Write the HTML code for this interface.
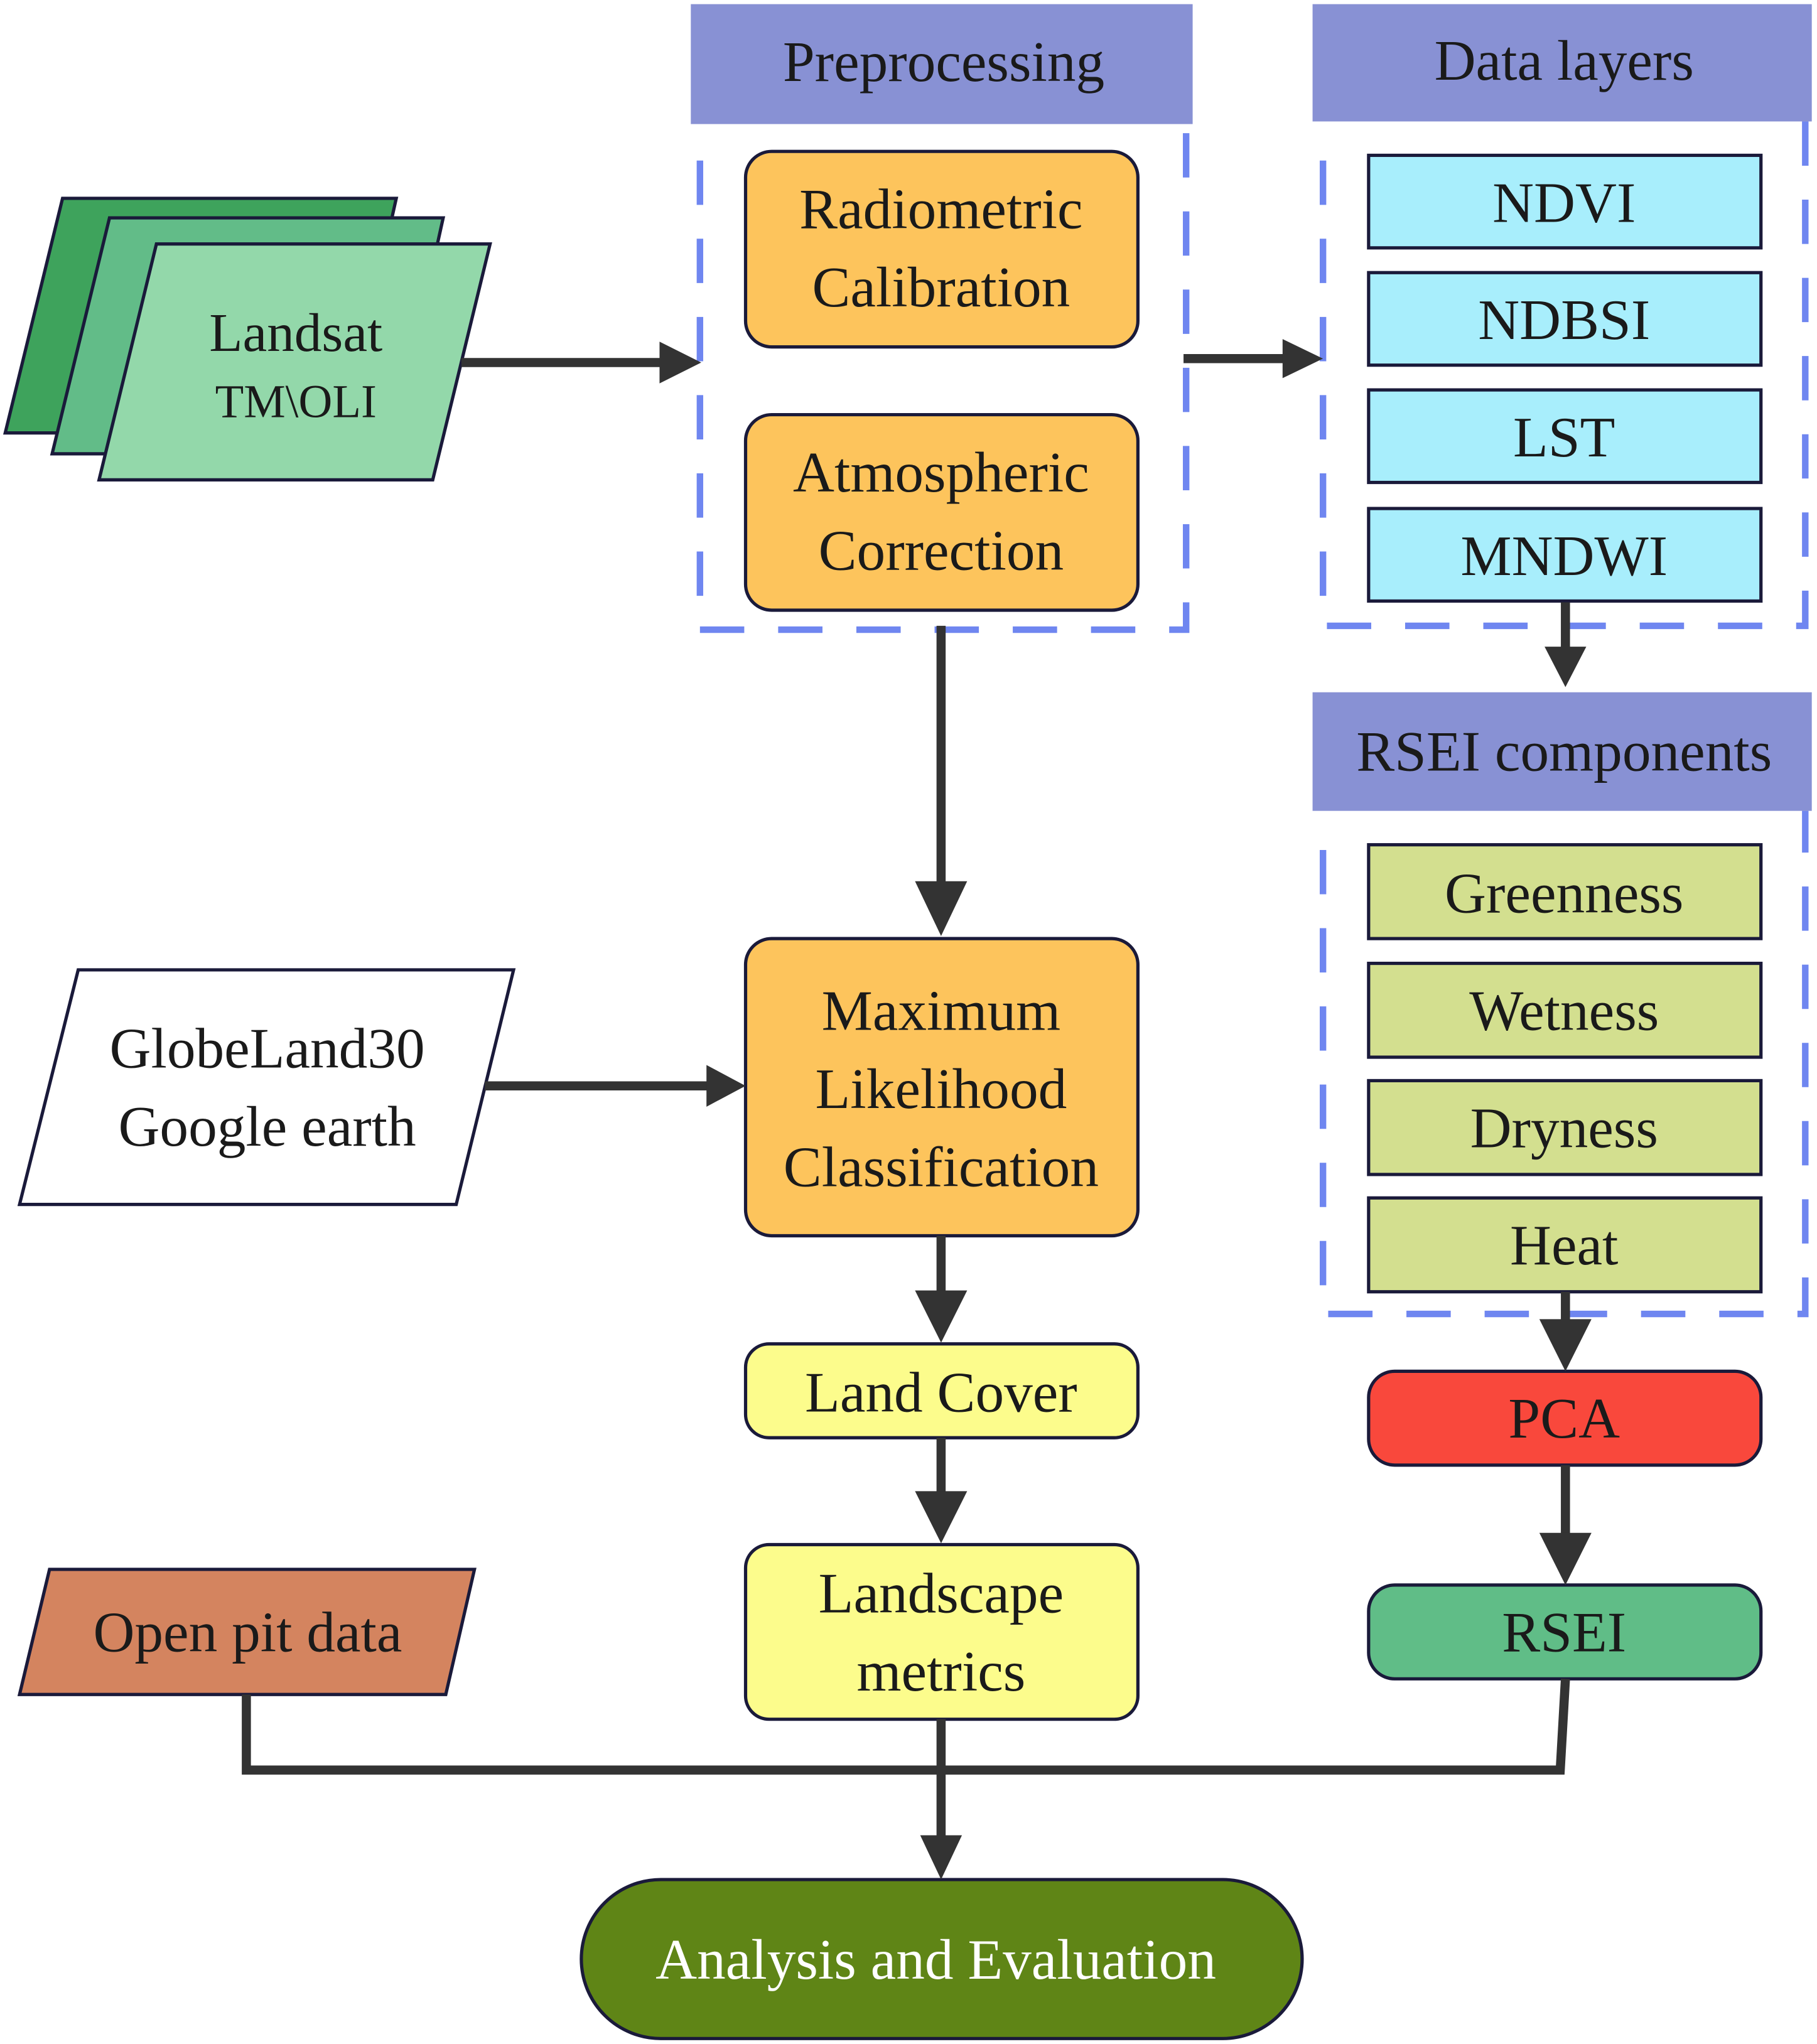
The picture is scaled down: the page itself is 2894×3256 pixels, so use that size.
<!DOCTYPE html>
<html><head><meta charset="utf-8"><style>html,body{margin:0;padding:0;background:#fff}svg{display:block}</style></head>
<body>
<svg width="2894" height="3256" viewBox="0 0 1394 1568" xmlns="http://www.w3.org/2000/svg" font-family="Liberation Serif, serif" fill="#1a1a1a">
<rect x="0" y="0" width="1394" height="1568" fill="#fff"/>
<!-- headers -->
<rect x="530" y="3" width="385" height="92" fill="#8891d4"/>
<text x="724" y="62" font-size="44" text-anchor="middle">Preprocessing</text>
<rect x="1007" y="3" width="383" height="90" fill="#8891d4"/>
<text x="1200" y="61" font-size="44" text-anchor="middle">Data layers</text>
<rect x="1007" y="531" width="383" height="91" fill="#8891d4"/>
<text x="1200" y="591" font-size="44" text-anchor="middle">RSEI components</text>
<!-- dashed boxes -->
<g fill="none" stroke="#6f86f0" stroke-width="5" stroke-dasharray="34,26">
<path d="M537,123 V483 H910 V95"/>
<path d="M1015,123 V480 H1385 V93"/>
<path d="M1015,652 V1008 H1385 V622"/>
</g>
<!-- landsat stack -->
<g stroke="#1a1a3a" stroke-width="2.5">
<polygon points="48,152 304,152 264,332 4,332" fill="#3ea35c"/>
<polygon points="84,167 340,167 300,348 40,348" fill="#62bc88"/>
<polygon points="120,187 376,187 332,368 76,368" fill="#93d8aa"/>
<polygon points="60,744 394,744 350,924 15,924" fill="#fff"/>
<polygon points="38,1204 364,1204 342,1300 15,1300" fill="#d4845f"/>
</g>
<text x="227" y="269" font-size="42" text-anchor="middle">Landsat</text>
<text x="227" y="320" font-size="36" text-anchor="middle">TM\OLI</text>
<text x="205" y="819" font-size="44" text-anchor="middle">GlobeLand30</text>
<text x="205" y="879" font-size="44" text-anchor="middle">Google earth</text>
<text x="190" y="1267" font-size="44" text-anchor="middle">Open pit data</text>
<!-- boxes -->
<g stroke="#1a1a3a" stroke-width="2.5">
<rect x="572" y="116" width="301" height="150" rx="20" fill="#fdc45c"/>
<rect x="572" y="318" width="301" height="150" rx="20" fill="#fdc45c"/>
<rect x="572" y="720" width="301" height="228" rx="20" fill="#fdc45c"/>
<rect x="572" y="1031" width="301" height="72" rx="18" fill="#fcfc8c"/>
<rect x="572" y="1185" width="301" height="134" rx="18" fill="#fcfc8c"/>
<rect x="1050" y="119" width="301" height="71" fill="#a8eefc"/>
<rect x="1050" y="209" width="301" height="71" fill="#a8eefc"/>
<rect x="1050" y="299" width="301" height="71" fill="#a8eefc"/>
<rect x="1050" y="390" width="301" height="71" fill="#a8eefc"/>
<rect x="1050" y="648" width="301" height="72" fill="#d3df8f"/>
<rect x="1050" y="739" width="301" height="72" fill="#d3df8f"/>
<rect x="1050" y="829" width="301" height="72" fill="#d3df8f"/>
<rect x="1050" y="919" width="301" height="72" fill="#d3df8f"/>
<rect x="1050" y="1052" width="301" height="72" rx="20" fill="#f9483c"/>
<rect x="1050" y="1216" width="301" height="72" rx="20" fill="#60bd87"/>
<rect x="446" y="1442" width="553" height="122" rx="61" fill="#5f8516"/>
</g>
<g font-size="44" text-anchor="middle">
<text x="722" y="175">Radiometric</text>
<text x="722" y="235">Calibration</text>
<text x="722" y="377">Atmospheric</text>
<text x="722" y="437">Correction</text>
<text x="722" y="790">Maximum</text>
<text x="722" y="850">Likelihood</text>
<text x="722" y="910">Classification</text>
<text x="722" y="1083">Land Cover</text>
<text x="722" y="1237">Landscape</text>
<text x="722" y="1297">metrics</text>
<text x="1200" y="170">NDVI</text>
<text x="1200" y="260">NDBSI</text>
<text x="1200" y="350">LST</text>
<text x="1200" y="441">MNDWI</text>
<text x="1200" y="700">Greenness</text>
<text x="1200" y="790">Wetness</text>
<text x="1200" y="880">Dryness</text>
<text x="1200" y="970">Heat</text>
<text x="1200" y="1103">PCA</text>
<text x="1200" y="1267">RSEI</text>
<text x="718" y="1518" fill="#fff">Analysis and Evaluation</text>
</g>
<!-- connectors -->
<g stroke="#333" stroke-width="7" fill="none">
<path d="M354,278 H512"/>
<path d="M908,275 H990"/>
<path d="M722,480 V680"/>
<path d="M372,833 H548"/>
<path d="M722,948 V995"/>
<path d="M722,1103 V1150"/>
<path d="M1201,462 V500"/>
<path d="M1201,991 V1018"/>
<path d="M1201,1124 V1182"/>
<path d="M189,1300 V1358 H1197 L1201,1288"/>
<path d="M722,1319 V1410"/>
</g>
<g fill="#333">
<polygon points="506,262 538,278 506,294"/>
<polygon points="984,260 1015,275 984,290"/>
<polygon points="702,676 742,676 722,718"/>
<polygon points="542,817 572,833 542,849"/>
<polygon points="702,990 742,990 722,1030"/>
<polygon points="702,1144 742,1144 722,1184"/>
<polygon points="1185,496 1217,496 1201,527"/>
<polygon points="1181,1012 1221,1012 1201,1052"/>
<polygon points="1181,1176 1221,1176 1201,1216"/>
<polygon points="706,1408 738,1408 722,1442"/>
</g>
</svg>
</body></html>
